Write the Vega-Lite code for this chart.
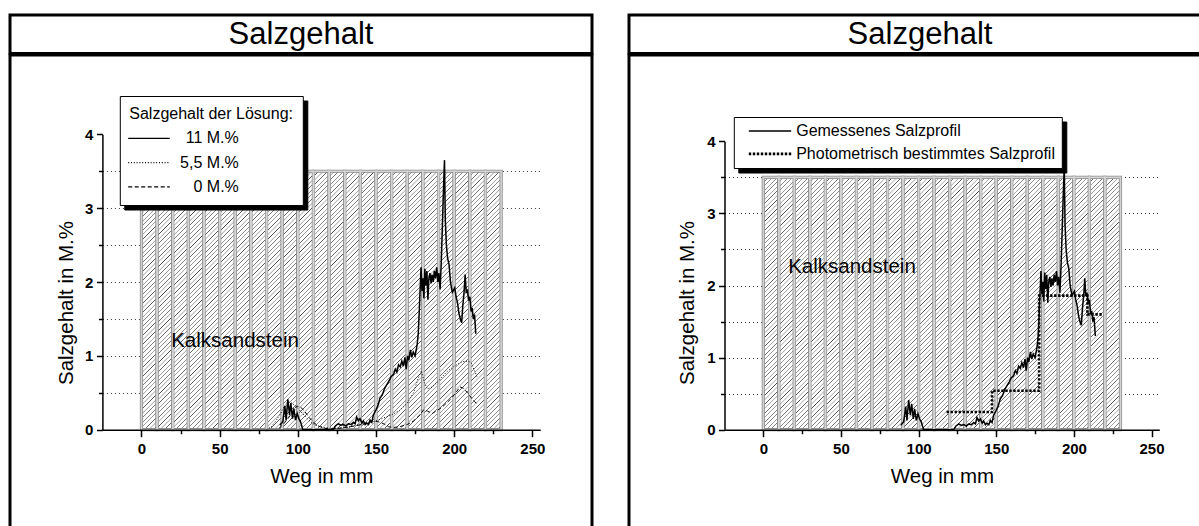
{
"$schema": "https://vega.github.io/schema/vega-lite/v6.json",
"background": "white",
"padding": {"left": 8, "top": 13, "right": 0, "bottom": 0},
"spacing": 33,
"resolve": {"scale": {"strokeDash": "independent", "opacity": "independent"}, "legend": {"strokeDash": "independent", "opacity": "independent"}},
"config": {
  "view": {"stroke": "black", "strokeWidth": 3},
  "font": "Liberation Sans",
  "axis": {"labelFont": "Liberation Sans", "titleFont": "Liberation Sans"},
  "legend": {"labelFont": "Liberation Sans", "titleFont": "Liberation Sans"}
},
"datasets": {
  "ttl": [{"t": "Salzgehalt"}],
  "strips": [{"x0":0,"x1":10},{"x0":10,"x1":20},{"x0":20,"x1":30},{"x0":30,"x1":40},{"x0":40,"x1":50},{"x0":50,"x1":60},{"x0":60,"x1":70},{"x0":70,"x1":80},{"x0":80,"x1":90},{"x0":90,"x1":100},{"x0":100,"x1":110},{"x0":110,"x1":120},{"x0":120,"x1":130},{"x0":130,"x1":140},{"x0":140,"x1":150},{"x0":150,"x1":160},{"x0":160,"x1":170},{"x0":170,"x1":180},{"x0":180,"x1":190},{"x0":190,"x1":200},{"x0":200,"x1":210},{"x0":210,"x1":220},{"x0":220,"x1":230}],
  "labL": [{"x": 19, "y": 1.2, "t": "Kalksandstein"}],
  "labR": [{"x": 16, "y": 2.25, "t": "Kalksandstein"}],
  "g": [{"x":88.5,"y":0.06},{"x":90.4,"y":0.11},{"x":91.7,"y":0.32},{"x":92.5,"y":0.13},{"x":93.6,"y":0.41},{"x":94.7,"y":0.2},{"x":95.5,"y":0.36},{"x":96.6,"y":0.15},{"x":97.4,"y":0.29},{"x":98.5,"y":0.13},{"x":99.6,"y":0.22},{"x":100.6,"y":0.15},{"x":101.7,"y":0.11},{"x":103.2,"y":0},{"x":122.6,"y":0},{"x":124,"y":0.05},{"x":125.8,"y":0.08},{"x":127.5,"y":0.06},{"x":129.1,"y":0.07},{"x":130.7,"y":0.05},{"x":132.3,"y":0.08},{"x":134,"y":0.07},{"x":135.5,"y":0.1},{"x":136.6,"y":0.08},{"x":137.6,"y":0.17},{"x":138.7,"y":0.12},{"x":139.8,"y":0.15},{"x":141,"y":0.09},{"x":141.9,"y":0.12},{"x":143,"y":0.07},{"x":144,"y":0.09},{"x":145.2,"y":0.07},{"x":146.2,"y":0.13},{"x":147.3,"y":0.1},{"x":148.3,"y":0.2},{"x":150,"y":0.27},{"x":151.3,"y":0.33},{"x":152.6,"y":0.43},{"x":154,"y":0.47},{"x":155.5,"y":0.56},{"x":156.9,"y":0.61},{"x":158.3,"y":0.66},{"x":159.7,"y":0.72},{"x":161.2,"y":0.75},{"x":162.3,"y":0.82},{"x":163.3,"y":0.78},{"x":164.4,"y":0.88},{"x":165.5,"y":0.85},{"x":166.5,"y":0.93},{"x":167.5,"y":0.86},{"x":168.5,"y":0.98},{"x":169.3,"y":0.82},{"x":170.2,"y":1.0},{"x":171,"y":0.94},{"x":172,"y":1.08},{"x":172.9,"y":0.98},{"x":173.8,"y":1.05},{"x":175,"y":1.0},{"x":176.3,"y":1.15},{"x":177,"y":1.3},{"x":177.6,"y":1.58},{"x":178.2,"y":1.9},{"x":178.8,"y":2.2},{"x":179.4,"y":1.88},{"x":180,"y":2.05},{"x":180.6,"y":1.78},{"x":181.2,"y":2.18},{"x":181.9,"y":1.95},{"x":182.5,"y":2.15},{"x":183.2,"y":1.76},{"x":183.8,"y":2.05},{"x":184.5,"y":2.12},{"x":185.2,"y":1.98},{"x":185.8,"y":2.1},{"x":186.6,"y":2.0},{"x":187.3,"y":2.15},{"x":188,"y":2.05},{"x":188.8,"y":2.2},{"x":189.5,"y":2.0},{"x":190.2,"y":2.12},{"x":191,"y":1.9},{"x":191.7,"y":2.25},{"x":192.5,"y":2.8},{"x":193.2,"y":3.3},{"x":193.8,"y":3.65},{"x":194.3,"y":2.85},{"x":195,"y":2.5},{"x":195.8,"y":2.32},{"x":196.7,"y":2.24},{"x":197.6,"y":2.0},{"x":198.8,"y":1.86},{"x":200.3,"y":1.92},{"x":201.2,"y":1.8},{"x":202,"y":1.73},{"x":203,"y":1.58},{"x":204,"y":1.49},{"x":204.8,"y":1.45},{"x":205.5,"y":1.68},{"x":206.3,"y":1.86},{"x":207,"y":2.1},{"x":207.7,"y":1.85},{"x":208.4,"y":1.9},{"x":209.2,"y":1.75},{"x":210,"y":1.8},{"x":210.8,"y":1.6},{"x":211.5,"y":1.65},{"x":212.2,"y":1.5},{"x":213,"y":1.56},{"x":213.8,"y":1.3}],
  "d55": [{"x":80,"y":0},{"x":83,"y":0.04},{"x":86,"y":0.12},{"x":89,"y":0.22},{"x":91.5,"y":0.32},{"x":93.5,"y":0.38},{"x":95.5,"y":0.37},{"x":98,"y":0.33},{"x":100.5,"y":0.28},{"x":103,"y":0.22},{"x":106,"y":0.15},{"x":109,"y":0.09},{"x":112,"y":0.06},{"x":116,"y":0.03},{"x":120,"y":0.02},{"x":125,"y":0.02},{"x":130,"y":0.03},{"x":135,"y":0.05},{"x":140,"y":0.07},{"x":145,"y":0.09},{"x":150,"y":0.12},{"x":155,"y":0.16},{"x":160,"y":0.2},{"x":165,"y":0.26},{"x":170,"y":0.36},{"x":174,"y":0.5},{"x":177,"y":0.7},{"x":179,"y":0.8},{"x":181,"y":0.63},{"x":183,"y":0.55},{"x":186,"y":0.58},{"x":190,"y":0.66},{"x":195,"y":0.78},{"x":200,"y":0.86},{"x":205,"y":0.92},{"x":209,"y":0.93},{"x":211,"y":0.9},{"x":213,"y":0.8},{"x":214.5,"y":0.72}],
  "d0": [{"x":88,"y":0.02},{"x":91,"y":0.08},{"x":94,"y":0.16},{"x":97,"y":0.26},{"x":99.5,"y":0.32},{"x":102,"y":0.3},{"x":104,"y":0.26},{"x":107,"y":0.17},{"x":110,"y":0.1},{"x":113,"y":0.05},{"x":117,"y":0.02},{"x":121,"y":0.01},{"x":126,"y":0.02},{"x":131,"y":0.03},{"x":136,"y":0.05},{"x":141,"y":0.07},{"x":145,"y":0.1},{"x":148,"y":0.12},{"x":151,"y":0.11},{"x":155,"y":0.08},{"x":158,"y":0.04},{"x":161,"y":0.03},{"x":165,"y":0.04},{"x":170,"y":0.07},{"x":174,"y":0.12},{"x":178,"y":0.2},{"x":180.5,"y":0.27},{"x":183,"y":0.25},{"x":186,"y":0.22},{"x":189,"y":0.26},{"x":192,"y":0.3},{"x":195,"y":0.36},{"x":198,"y":0.42},{"x":201,"y":0.5},{"x":203.7,"y":0.58},{"x":206,"y":0.56},{"x":208.5,"y":0.5},{"x":211,"y":0.43},{"x":213,"y":0.38},{"x":214.8,"y":0.35}],
  "photo": [{"x":118,"y":0.245},{"x":147.3,"y":0.54},{"x":177.6,"y":1.86},{"x":208.7,"y":1.6},{"x":218,"y":1.6}]
},
"hconcat": [
 {"spacing": -3,
  "resolve": {"scale": {"strokeDash": "independent", "opacity": "independent"}, "legend": {"strokeDash": "independent", "opacity": "independent"}},
  "vconcat": [
  {"width": 582, "height": 38.5, "data": {"name": "ttl"},
   "mark": {"type": "text", "fontSize": 31, "font": "Liberation Sans", "baseline": "middle", "color": "black", "dy": 1},
   "encoding": {"x": {"datum": 0.5, "type": "quantitative", "scale": {"domain": [0, 1]}, "axis": null},
                "y": {"datum": 0.5, "type": "quantitative", "scale": {"domain": [0, 1]}, "axis": null},
                "text": {"field": "t"}}},
  {"width": 582, "height": 480,
   "layer": [
    {"data": {"name": "strips"},
     "mark": {"type": "rect", "stroke": "#8c8c8c", "strokeWidth": 3.2, "fill": {"gradient":"linear","x1":0,"y1":0,"x2":0.064,"y2":1.057,"stops":[{"offset":0,"color":"#fff"},{"offset":0.0025,"color":"#4a4a4a"},{"offset":0.005,"color":"#fff"},{"offset":0.0167,"color":"#fff"},{"offset":0.0192,"color":"#4a4a4a"},{"offset":0.0217,"color":"#fff"},{"offset":0.0333,"color":"#fff"},{"offset":0.0358,"color":"#4a4a4a"},{"offset":0.0383,"color":"#fff"},{"offset":0.05,"color":"#fff"},{"offset":0.0525,"color":"#4a4a4a"},{"offset":0.055,"color":"#fff"},{"offset":0.0667,"color":"#fff"},{"offset":0.0692,"color":"#4a4a4a"},{"offset":0.0717,"color":"#fff"},{"offset":0.0833,"color":"#fff"},{"offset":0.0858,"color":"#4a4a4a"},{"offset":0.0883,"color":"#fff"},{"offset":0.1,"color":"#fff"},{"offset":0.1025,"color":"#4a4a4a"},{"offset":0.105,"color":"#fff"},{"offset":0.1167,"color":"#fff"},{"offset":0.1192,"color":"#4a4a4a"},{"offset":0.1217,"color":"#fff"},{"offset":0.1333,"color":"#fff"},{"offset":0.1358,"color":"#4a4a4a"},{"offset":0.1383,"color":"#fff"},{"offset":0.15,"color":"#fff"},{"offset":0.1525,"color":"#4a4a4a"},{"offset":0.155,"color":"#fff"},{"offset":0.1667,"color":"#fff"},{"offset":0.1692,"color":"#4a4a4a"},{"offset":0.1717,"color":"#fff"},{"offset":0.1833,"color":"#fff"},{"offset":0.1858,"color":"#4a4a4a"},{"offset":0.1883,"color":"#fff"},{"offset":0.2,"color":"#fff"},{"offset":0.2025,"color":"#4a4a4a"},{"offset":0.205,"color":"#fff"},{"offset":0.2167,"color":"#fff"},{"offset":0.2192,"color":"#4a4a4a"},{"offset":0.2217,"color":"#fff"},{"offset":0.2333,"color":"#fff"},{"offset":0.2358,"color":"#4a4a4a"},{"offset":0.2383,"color":"#fff"},{"offset":0.25,"color":"#fff"},{"offset":0.2525,"color":"#4a4a4a"},{"offset":0.255,"color":"#fff"},{"offset":0.2667,"color":"#fff"},{"offset":0.2692,"color":"#4a4a4a"},{"offset":0.2717,"color":"#fff"},{"offset":0.2833,"color":"#fff"},{"offset":0.2858,"color":"#4a4a4a"},{"offset":0.2883,"color":"#fff"},{"offset":0.3,"color":"#fff"},{"offset":0.3025,"color":"#4a4a4a"},{"offset":0.305,"color":"#fff"},{"offset":0.3167,"color":"#fff"},{"offset":0.3192,"color":"#4a4a4a"},{"offset":0.3217,"color":"#fff"},{"offset":0.3333,"color":"#fff"},{"offset":0.3358,"color":"#4a4a4a"},{"offset":0.3383,"color":"#fff"},{"offset":0.35,"color":"#fff"},{"offset":0.3525,"color":"#4a4a4a"},{"offset":0.355,"color":"#fff"},{"offset":0.3667,"color":"#fff"},{"offset":0.3692,"color":"#4a4a4a"},{"offset":0.3717,"color":"#fff"},{"offset":0.3833,"color":"#fff"},{"offset":0.3858,"color":"#4a4a4a"},{"offset":0.3883,"color":"#fff"},{"offset":0.4,"color":"#fff"},{"offset":0.4025,"color":"#4a4a4a"},{"offset":0.405,"color":"#fff"},{"offset":0.4167,"color":"#fff"},{"offset":0.4192,"color":"#4a4a4a"},{"offset":0.4217,"color":"#fff"},{"offset":0.4333,"color":"#fff"},{"offset":0.4358,"color":"#4a4a4a"},{"offset":0.4383,"color":"#fff"},{"offset":0.45,"color":"#fff"},{"offset":0.4525,"color":"#4a4a4a"},{"offset":0.455,"color":"#fff"},{"offset":0.4667,"color":"#fff"},{"offset":0.4692,"color":"#4a4a4a"},{"offset":0.4717,"color":"#fff"},{"offset":0.4833,"color":"#fff"},{"offset":0.4858,"color":"#4a4a4a"},{"offset":0.4883,"color":"#fff"},{"offset":0.5,"color":"#fff"},{"offset":0.5025,"color":"#4a4a4a"},{"offset":0.505,"color":"#fff"},{"offset":0.5167,"color":"#fff"},{"offset":0.5192,"color":"#4a4a4a"},{"offset":0.5217,"color":"#fff"},{"offset":0.5333,"color":"#fff"},{"offset":0.5358,"color":"#4a4a4a"},{"offset":0.5383,"color":"#fff"},{"offset":0.55,"color":"#fff"},{"offset":0.5525,"color":"#4a4a4a"},{"offset":0.555,"color":"#fff"},{"offset":0.5667,"color":"#fff"},{"offset":0.5692,"color":"#4a4a4a"},{"offset":0.5717,"color":"#fff"},{"offset":0.5833,"color":"#fff"},{"offset":0.5858,"color":"#4a4a4a"},{"offset":0.5883,"color":"#fff"},{"offset":0.6,"color":"#fff"},{"offset":0.6025,"color":"#4a4a4a"},{"offset":0.605,"color":"#fff"},{"offset":0.6167,"color":"#fff"},{"offset":0.6192,"color":"#4a4a4a"},{"offset":0.6217,"color":"#fff"},{"offset":0.6333,"color":"#fff"},{"offset":0.6358,"color":"#4a4a4a"},{"offset":0.6383,"color":"#fff"},{"offset":0.65,"color":"#fff"},{"offset":0.6525,"color":"#4a4a4a"},{"offset":0.655,"color":"#fff"},{"offset":0.6667,"color":"#fff"},{"offset":0.6692,"color":"#4a4a4a"},{"offset":0.6717,"color":"#fff"},{"offset":0.6833,"color":"#fff"},{"offset":0.6858,"color":"#4a4a4a"},{"offset":0.6883,"color":"#fff"},{"offset":0.7,"color":"#fff"},{"offset":0.7025,"color":"#4a4a4a"},{"offset":0.705,"color":"#fff"},{"offset":0.7167,"color":"#fff"},{"offset":0.7192,"color":"#4a4a4a"},{"offset":0.7217,"color":"#fff"},{"offset":0.7333,"color":"#fff"},{"offset":0.7358,"color":"#4a4a4a"},{"offset":0.7383,"color":"#fff"},{"offset":0.75,"color":"#fff"},{"offset":0.7525,"color":"#4a4a4a"},{"offset":0.755,"color":"#fff"},{"offset":0.7667,"color":"#fff"},{"offset":0.7692,"color":"#4a4a4a"},{"offset":0.7717,"color":"#fff"},{"offset":0.7833,"color":"#fff"},{"offset":0.7858,"color":"#4a4a4a"},{"offset":0.7883,"color":"#fff"},{"offset":0.8,"color":"#fff"},{"offset":0.8025,"color":"#4a4a4a"},{"offset":0.805,"color":"#fff"},{"offset":0.8167,"color":"#fff"},{"offset":0.8192,"color":"#4a4a4a"},{"offset":0.8217,"color":"#fff"},{"offset":0.8333,"color":"#fff"},{"offset":0.8358,"color":"#4a4a4a"},{"offset":0.8383,"color":"#fff"},{"offset":0.85,"color":"#fff"},{"offset":0.8525,"color":"#4a4a4a"},{"offset":0.855,"color":"#fff"},{"offset":0.8667,"color":"#fff"},{"offset":0.8692,"color":"#4a4a4a"},{"offset":0.8717,"color":"#fff"},{"offset":0.8833,"color":"#fff"},{"offset":0.8858,"color":"#4a4a4a"},{"offset":0.8883,"color":"#fff"},{"offset":0.9,"color":"#fff"},{"offset":0.9025,"color":"#4a4a4a"},{"offset":0.905,"color":"#fff"},{"offset":0.9167,"color":"#fff"},{"offset":0.9192,"color":"#4a4a4a"},{"offset":0.9217,"color":"#fff"},{"offset":0.9333,"color":"#fff"},{"offset":0.9358,"color":"#4a4a4a"},{"offset":0.9383,"color":"#fff"},{"offset":0.95,"color":"#fff"},{"offset":0.9525,"color":"#4a4a4a"},{"offset":0.955,"color":"#fff"},{"offset":0.9667,"color":"#fff"},{"offset":0.9692,"color":"#4a4a4a"},{"offset":0.9717,"color":"#fff"},{"offset":0.9833,"color":"#fff"},{"offset":0.9858,"color":"#4a4a4a"},{"offset":0.9883,"color":"#fff"},{"offset":1,"color":"#fff"}]}},
     "encoding": {
      "x": {"field": "x0", "type": "quantitative",
            "scale": {"domain": [-25, 255], "range": [92.4, 530.2], "nice": false, "zero": false},
            "axis": {"title": "Weg in mm", "titleFontSize": 20.5, "titleFontWeight": "normal", "titleColor": "black", "titleBaseline": "alphabetic", "titleY": 53,
                     "offset": -105.3, "values": [0,25,50,75,100,125,150,175,200,225,250], "format": "d",
                     "labelExpr": "datum.value % 50 === 0 ? datum.label : ''",
                     "labelFontSize": 15, "labelFontWeight": "bold", "labelColor": "black", "labelPadding": 5, "labelFlush": false, "labelOverlap": false,
                     "tickSize": {"condition": {"test": "datum.value % 50 === 0", "value": 7}, "value": 4},
                     "tickColor": "black", "tickWidth": 1.5, "domainColor": "black", "domainWidth": 1.5, "grid": false, "zindex": 1}},
      "x2": {"field": "x1"},
      "y": {"datum": 0, "type": "quantitative",
            "scale": {"domain": [0, 4], "range": [374.7, 79.3], "nice": false, "zero": false},
            "axis": {"title": "Salzgehalt in M.%", "titleFontSize": 20.5, "titleFontWeight": "normal", "titleColor": "black", "titleBaseline": "alphabetic", "titleX": -29.5, "titleY": 247.5, "titleAlign": "center",
                     "offset": -92.4, "values": [0,0.5,1,1.5,2,2.5,3,3.5,4], "format": ".0f",
                     "labelExpr": "datum.value % 1 === 0 ? datum.label : ''",
                     "labelFontSize": 15, "labelFontWeight": "bold", "labelColor": "black", "labelPadding": 3.5, "labelFlush": false, "labelOverlap": false,
                     "tickSize": {"condition": {"test": "datum.value % 1 === 0", "value": 6}, "value": 4},
                     "tickColor": "black", "tickWidth": 1.5, "domainColor": "black", "domainWidth": 1.5,
                     "grid": true, "gridColor": "#333333", "gridDash": [1, 3], "gridWidth": 1,
                     "gridOpacity": {"condition": {"test": "datum.value === 0 || datum.value === 4", "value": 0}, "value": 1},
                     "zindex": 0}},
      "y2": {"datum": 3.5}
     }},
    {"data": {"name": "strips"},
     "mark": {"type": "rect", "filled": false, "stroke": "#d4d4d4", "strokeWidth": 1.6},
     "encoding": {"x": {"field": "x0", "type": "quantitative"}, "x2": {"field": "x1"}, "y": {"datum": 0, "type": "quantitative"}, "y2": {"datum": 3.5}}},
    {"data": {"name": "labL"},
     "mark": {"type": "text", "align": "left", "baseline": "middle", "fontSize": 20.5, "font": "Liberation Sans", "color": "black"},
     "encoding": {"x": {"field": "x", "type": "quantitative"}, "y": {"field": "y", "type": "quantitative"}, "text": {"field": "t"}}},
    {"data": {"name": "g"},
     "mark": {"type": "line", "color": "black", "strokeWidth": 1.5},
     "encoding": {
      "x": {"field": "x", "type": "quantitative"}, "y": {"field": "y", "type": "quantitative"},
      "strokeDash": {"datum": "11 M.%", "scale": {"domain": ["0 M.%", "5,5 M.%", "11 M.%"], "range": [[4,2.5],[1,1.8],[1,0]]},
        "legend": {"orient": "none", "legendX": 114.3, "legendY": 45.5, "title": "Salzgehalt der Lösung:\u00a0", "titleFontSize": 16, "titleFontWeight": "normal", "titleColor": "black", "titleAnchor": "start", "titlePadding": 8.8, "titleLimit": 400,
                   "labelFontSize": 16, "labelColor": "black", "labelAlign": "right", "labelOffset": 81.8, "labelLimit": 400,
                   "symbolType": "M-5.2,0H5.2", "symbolSize": 64, "symbolOffset": 11.7, "symbolStrokeColor": "black", "symbolStrokeWidth": 1.3, "symbolFillColor": "black",
                   "padding": 9.5, "rowPadding": 8.3, "fillColor": "black", "strokeColor": "black"}},
      "opacity": {"datum": "11 M.%", "scale": {"domain": ["11 M.%", "5,5 M.%", "0 M.%"], "range": [1, 1, 1]},
        "legend": {"orient": "none", "legendX": 109.8, "legendY": 41, "title": "Salzgehalt der Lösung:\u00a0", "titleFontSize": 16, "titleFontWeight": "normal", "titleColor": "black", "titleAnchor": "start", "titlePadding": 8.8, "titleLimit": 400,
                   "labelFontSize": 16, "labelColor": "black", "labelAlign": "right", "labelOffset": 81.8, "labelLimit": 400,
                   "symbolType": "M-5.2,0H5.2", "symbolSize": 64, "symbolOffset": 11.7, "symbolStrokeColor": "black", "symbolStrokeWidth": 1.3, "symbolFillColor": "transparent", "symbolOpacity": 1,
                   "padding": 9.5, "rowPadding": 8.3, "fillColor": "white", "strokeColor": "black",
                   "encode": {"symbols": {"update": {"strokeDash": {"signal": "datum.value === '5,5 M.%' ? [1,1.8] : datum.value === '0 M.%' ? [4,2.5] : [1,0]"}, "opacity": {"value": 1}}}}}}
     }},
    {"data": {"name": "d55"},
     "mark": {"type": "line", "color": "black", "strokeWidth": 1},
     "encoding": {"x": {"field": "x", "type": "quantitative"}, "y": {"field": "y", "type": "quantitative"}, "strokeDash": {"datum": "5,5 M.%"}}},
    {"data": {"name": "d0"},
     "mark": {"type": "line", "color": "black", "strokeWidth": 1},
     "encoding": {"x": {"field": "x", "type": "quantitative"}, "y": {"field": "y", "type": "quantitative"}, "strokeDash": {"datum": "0 M.%"}}}
   ]}
 ]},
 {"spacing": -3,
  "resolve": {"scale": {"strokeDash": "independent", "opacity": "independent"}, "legend": {"strokeDash": "independent", "opacity": "independent"}},
  "vconcat": [
  {"width": 582, "height": 38.5, "data": {"name": "ttl"},
   "mark": {"type": "text", "fontSize": 31, "font": "Liberation Sans", "baseline": "middle", "color": "black", "dy": 1},
   "encoding": {"x": {"datum": 0.5, "type": "quantitative", "scale": {"domain": [0, 1]}, "axis": null},
                "y": {"datum": 0.5, "type": "quantitative", "scale": {"domain": [0, 1]}, "axis": null},
                "text": {"field": "t"}}},
  {"width": 582, "height": 480,
   "layer": [
    {"data": {"name": "strips"},
     "mark": {"type": "rect", "stroke": "#8c8c8c", "strokeWidth": 3.2, "fill": {"gradient":"linear","x1":0,"y1":0,"x2":0.065,"y2":1.057,"stops":[{"offset":0,"color":"#fff"},{"offset":0.0025,"color":"#4a4a4a"},{"offset":0.005,"color":"#fff"},{"offset":0.0167,"color":"#fff"},{"offset":0.0192,"color":"#4a4a4a"},{"offset":0.0217,"color":"#fff"},{"offset":0.0333,"color":"#fff"},{"offset":0.0358,"color":"#4a4a4a"},{"offset":0.0383,"color":"#fff"},{"offset":0.05,"color":"#fff"},{"offset":0.0525,"color":"#4a4a4a"},{"offset":0.055,"color":"#fff"},{"offset":0.0667,"color":"#fff"},{"offset":0.0692,"color":"#4a4a4a"},{"offset":0.0717,"color":"#fff"},{"offset":0.0833,"color":"#fff"},{"offset":0.0858,"color":"#4a4a4a"},{"offset":0.0883,"color":"#fff"},{"offset":0.1,"color":"#fff"},{"offset":0.1025,"color":"#4a4a4a"},{"offset":0.105,"color":"#fff"},{"offset":0.1167,"color":"#fff"},{"offset":0.1192,"color":"#4a4a4a"},{"offset":0.1217,"color":"#fff"},{"offset":0.1333,"color":"#fff"},{"offset":0.1358,"color":"#4a4a4a"},{"offset":0.1383,"color":"#fff"},{"offset":0.15,"color":"#fff"},{"offset":0.1525,"color":"#4a4a4a"},{"offset":0.155,"color":"#fff"},{"offset":0.1667,"color":"#fff"},{"offset":0.1692,"color":"#4a4a4a"},{"offset":0.1717,"color":"#fff"},{"offset":0.1833,"color":"#fff"},{"offset":0.1858,"color":"#4a4a4a"},{"offset":0.1883,"color":"#fff"},{"offset":0.2,"color":"#fff"},{"offset":0.2025,"color":"#4a4a4a"},{"offset":0.205,"color":"#fff"},{"offset":0.2167,"color":"#fff"},{"offset":0.2192,"color":"#4a4a4a"},{"offset":0.2217,"color":"#fff"},{"offset":0.2333,"color":"#fff"},{"offset":0.2358,"color":"#4a4a4a"},{"offset":0.2383,"color":"#fff"},{"offset":0.25,"color":"#fff"},{"offset":0.2525,"color":"#4a4a4a"},{"offset":0.255,"color":"#fff"},{"offset":0.2667,"color":"#fff"},{"offset":0.2692,"color":"#4a4a4a"},{"offset":0.2717,"color":"#fff"},{"offset":0.2833,"color":"#fff"},{"offset":0.2858,"color":"#4a4a4a"},{"offset":0.2883,"color":"#fff"},{"offset":0.3,"color":"#fff"},{"offset":0.3025,"color":"#4a4a4a"},{"offset":0.305,"color":"#fff"},{"offset":0.3167,"color":"#fff"},{"offset":0.3192,"color":"#4a4a4a"},{"offset":0.3217,"color":"#fff"},{"offset":0.3333,"color":"#fff"},{"offset":0.3358,"color":"#4a4a4a"},{"offset":0.3383,"color":"#fff"},{"offset":0.35,"color":"#fff"},{"offset":0.3525,"color":"#4a4a4a"},{"offset":0.355,"color":"#fff"},{"offset":0.3667,"color":"#fff"},{"offset":0.3692,"color":"#4a4a4a"},{"offset":0.3717,"color":"#fff"},{"offset":0.3833,"color":"#fff"},{"offset":0.3858,"color":"#4a4a4a"},{"offset":0.3883,"color":"#fff"},{"offset":0.4,"color":"#fff"},{"offset":0.4025,"color":"#4a4a4a"},{"offset":0.405,"color":"#fff"},{"offset":0.4167,"color":"#fff"},{"offset":0.4192,"color":"#4a4a4a"},{"offset":0.4217,"color":"#fff"},{"offset":0.4333,"color":"#fff"},{"offset":0.4358,"color":"#4a4a4a"},{"offset":0.4383,"color":"#fff"},{"offset":0.45,"color":"#fff"},{"offset":0.4525,"color":"#4a4a4a"},{"offset":0.455,"color":"#fff"},{"offset":0.4667,"color":"#fff"},{"offset":0.4692,"color":"#4a4a4a"},{"offset":0.4717,"color":"#fff"},{"offset":0.4833,"color":"#fff"},{"offset":0.4858,"color":"#4a4a4a"},{"offset":0.4883,"color":"#fff"},{"offset":0.5,"color":"#fff"},{"offset":0.5025,"color":"#4a4a4a"},{"offset":0.505,"color":"#fff"},{"offset":0.5167,"color":"#fff"},{"offset":0.5192,"color":"#4a4a4a"},{"offset":0.5217,"color":"#fff"},{"offset":0.5333,"color":"#fff"},{"offset":0.5358,"color":"#4a4a4a"},{"offset":0.5383,"color":"#fff"},{"offset":0.55,"color":"#fff"},{"offset":0.5525,"color":"#4a4a4a"},{"offset":0.555,"color":"#fff"},{"offset":0.5667,"color":"#fff"},{"offset":0.5692,"color":"#4a4a4a"},{"offset":0.5717,"color":"#fff"},{"offset":0.5833,"color":"#fff"},{"offset":0.5858,"color":"#4a4a4a"},{"offset":0.5883,"color":"#fff"},{"offset":0.6,"color":"#fff"},{"offset":0.6025,"color":"#4a4a4a"},{"offset":0.605,"color":"#fff"},{"offset":0.6167,"color":"#fff"},{"offset":0.6192,"color":"#4a4a4a"},{"offset":0.6217,"color":"#fff"},{"offset":0.6333,"color":"#fff"},{"offset":0.6358,"color":"#4a4a4a"},{"offset":0.6383,"color":"#fff"},{"offset":0.65,"color":"#fff"},{"offset":0.6525,"color":"#4a4a4a"},{"offset":0.655,"color":"#fff"},{"offset":0.6667,"color":"#fff"},{"offset":0.6692,"color":"#4a4a4a"},{"offset":0.6717,"color":"#fff"},{"offset":0.6833,"color":"#fff"},{"offset":0.6858,"color":"#4a4a4a"},{"offset":0.6883,"color":"#fff"},{"offset":0.7,"color":"#fff"},{"offset":0.7025,"color":"#4a4a4a"},{"offset":0.705,"color":"#fff"},{"offset":0.7167,"color":"#fff"},{"offset":0.7192,"color":"#4a4a4a"},{"offset":0.7217,"color":"#fff"},{"offset":0.7333,"color":"#fff"},{"offset":0.7358,"color":"#4a4a4a"},{"offset":0.7383,"color":"#fff"},{"offset":0.75,"color":"#fff"},{"offset":0.7525,"color":"#4a4a4a"},{"offset":0.755,"color":"#fff"},{"offset":0.7667,"color":"#fff"},{"offset":0.7692,"color":"#4a4a4a"},{"offset":0.7717,"color":"#fff"},{"offset":0.7833,"color":"#fff"},{"offset":0.7858,"color":"#4a4a4a"},{"offset":0.7883,"color":"#fff"},{"offset":0.8,"color":"#fff"},{"offset":0.8025,"color":"#4a4a4a"},{"offset":0.805,"color":"#fff"},{"offset":0.8167,"color":"#fff"},{"offset":0.8192,"color":"#4a4a4a"},{"offset":0.8217,"color":"#fff"},{"offset":0.8333,"color":"#fff"},{"offset":0.8358,"color":"#4a4a4a"},{"offset":0.8383,"color":"#fff"},{"offset":0.85,"color":"#fff"},{"offset":0.8525,"color":"#4a4a4a"},{"offset":0.855,"color":"#fff"},{"offset":0.8667,"color":"#fff"},{"offset":0.8692,"color":"#4a4a4a"},{"offset":0.8717,"color":"#fff"},{"offset":0.8833,"color":"#fff"},{"offset":0.8858,"color":"#4a4a4a"},{"offset":0.8883,"color":"#fff"},{"offset":0.9,"color":"#fff"},{"offset":0.9025,"color":"#4a4a4a"},{"offset":0.905,"color":"#fff"},{"offset":0.9167,"color":"#fff"},{"offset":0.9192,"color":"#4a4a4a"},{"offset":0.9217,"color":"#fff"},{"offset":0.9333,"color":"#fff"},{"offset":0.9358,"color":"#4a4a4a"},{"offset":0.9383,"color":"#fff"},{"offset":0.95,"color":"#fff"},{"offset":0.9525,"color":"#4a4a4a"},{"offset":0.955,"color":"#fff"},{"offset":0.9667,"color":"#fff"},{"offset":0.9692,"color":"#4a4a4a"},{"offset":0.9717,"color":"#fff"},{"offset":0.9833,"color":"#fff"},{"offset":0.9858,"color":"#4a4a4a"},{"offset":0.9883,"color":"#fff"},{"offset":1,"color":"#fff"}]}},
     "encoding": {
      "x": {"field": "x0", "type": "quantitative",
            "scale": {"domain": [-25, 255], "range": [95.5, 530.3], "nice": false, "zero": false},
            "axis": {"title": "Weg in mm", "titleFontSize": 20.5, "titleFontWeight": "normal", "titleColor": "black", "titleBaseline": "alphabetic", "titleY": 53,
                     "offset": -105.3, "values": [0,25,50,75,100,125,150,175,200,225,250], "format": "d",
                     "labelExpr": "datum.value % 50 === 0 ? datum.label : ''",
                     "labelFontSize": 15, "labelFontWeight": "bold", "labelColor": "black", "labelPadding": 5, "labelFlush": false, "labelOverlap": false,
                     "tickSize": {"condition": {"test": "datum.value % 50 === 0", "value": 7}, "value": 4},
                     "tickColor": "black", "tickWidth": 1.5, "domainColor": "black", "domainWidth": 1.5, "grid": false, "zindex": 1}},
      "x2": {"field": "x1"},
      "y": {"datum": 0, "type": "quantitative",
            "scale": {"domain": [0, 4], "range": [374.7, 86.3], "nice": false, "zero": false},
            "axis": {"title": "Salzgehalt in M.%", "titleFontSize": 20.5, "titleFontWeight": "normal", "titleColor": "black", "titleBaseline": "alphabetic", "titleX": -31, "titleY": 247.5, "titleAlign": "center",
                     "offset": -95.5, "values": [0,0.5,1,1.5,2,2.5,3,3.5,4], "format": ".0f",
                     "labelExpr": "datum.value % 1 === 0 ? datum.label : ''",
                     "labelFontSize": 15, "labelFontWeight": "bold", "labelColor": "black", "labelPadding": 3.5, "labelFlush": false, "labelOverlap": false,
                     "tickSize": {"condition": {"test": "datum.value % 1 === 0", "value": 6}, "value": 4},
                     "tickColor": "black", "tickWidth": 1.5, "domainColor": "black", "domainWidth": 1.5,
                     "grid": true, "gridColor": "#333333", "gridDash": [1, 3], "gridWidth": 1,
                     "gridOpacity": {"condition": {"test": "datum.value === 0 || datum.value === 4", "value": 0}, "value": 1},
                     "zindex": 0}},
      "y2": {"datum": 3.5}
     }},
    {"data": {"name": "strips"},
     "mark": {"type": "rect", "filled": false, "stroke": "#d4d4d4", "strokeWidth": 1.6},
     "encoding": {"x": {"field": "x0", "type": "quantitative"}, "x2": {"field": "x1"}, "y": {"datum": 0, "type": "quantitative"}, "y2": {"datum": 3.5}}},
    {"data": {"name": "labR"},
     "mark": {"type": "text", "align": "left", "baseline": "middle", "fontSize": 20.5, "font": "Liberation Sans", "color": "black"},
     "encoding": {"x": {"field": "x", "type": "quantitative"}, "y": {"field": "y", "type": "quantitative"}, "text": {"field": "t"}}},
    {"data": {"name": "g"},
     "mark": {"type": "line", "color": "black", "strokeWidth": 1.5},
     "encoding": {
      "x": {"field": "x", "type": "quantitative"}, "y": {"field": "y", "type": "quantitative"},
      "strokeDash": {"datum": "Gemessenes Salzprofil", "scale": {"domain": ["Photometrisch bestimmtes Salzprofil", "Gemessenes Salzprofil"], "range": [[2.4,1.6],[1,0]]},
        "legend": {"orient": "none", "legendX": 109.3, "legendY": 66.5, "title": null,
                   "labelFontSize": 16, "labelColor": "black", "labelAlign": "left", "labelOffset": 18.2, "labelLimit": 600, "labelExpr": "datum.label + '\u00a0\u00a0\u00a0\u00a0\u00a0'",
                   "symbolType": "M-5.3,0H5.3", "symbolSize": 64, "symbolOffset": 22.2, "symbolStrokeColor": "black", "symbolStrokeWidth": 1.4, "symbolFillColor": "black",
                   "padding": 6, "rowPadding": 6.8, "fillColor": "black", "strokeColor": "black"}},
      "opacity": {"datum": "Gemessenes Salzprofil", "scale": {"domain": ["Gemessenes Salzprofil", "Photometrisch bestimmtes Salzprofil"], "range": [1, 1]},
        "legend": {"orient": "none", "legendX": 104.8, "legendY": 62, "title": null,
                   "labelFontSize": 16, "labelColor": "black", "labelAlign": "left", "labelOffset": 18.2, "labelLimit": 600, "labelExpr": "datum.label + '\u00a0\u00a0\u00a0\u00a0\u00a0'",
                   "symbolType": "M-5.3,0H5.3", "symbolSize": 64, "symbolOffset": 22.2, "symbolStrokeColor": "black", "symbolStrokeWidth": 1.4, "symbolFillColor": "transparent", "symbolOpacity": 1,
                   "padding": 6, "rowPadding": 6.8, "fillColor": "white", "strokeColor": "black",
                   "encode": {"symbols": {"update": {"strokeDash": {"signal": "datum.value === 'Photometrisch bestimmtes Salzprofil' ? [2.4,1.6] : [1,0]"}, "strokeWidth": {"signal": "datum.value === 'Photometrisch bestimmtes Salzprofil' ? 2.8 : 1.4"}, "opacity": {"value": 1}}}}}}
     }},
    {"data": {"name": "photo"},
     "mark": {"type": "line", "color": "black", "strokeWidth": 2.6, "interpolate": "step-after"},
     "encoding": {"x": {"field": "x", "type": "quantitative"}, "y": {"field": "y", "type": "quantitative"}, "strokeDash": {"datum": "Photometrisch bestimmtes Salzprofil"}}}
   ]}
 ]}
]
}
